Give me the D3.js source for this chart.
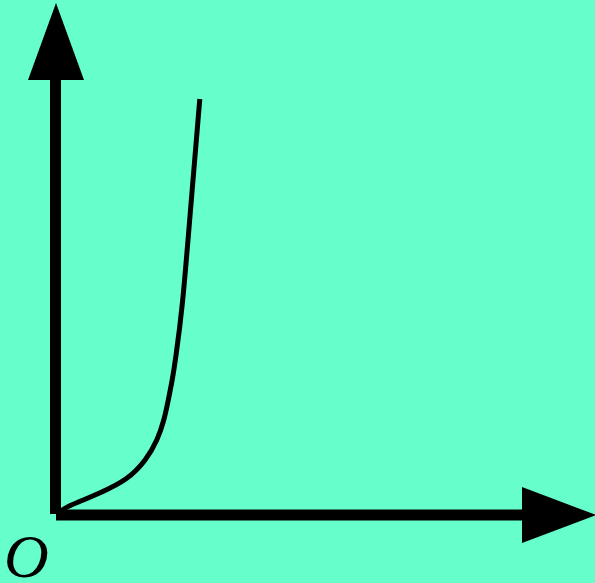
<!DOCTYPE html>
<html><head><meta charset="utf-8">
<script src="https://cdn.jsdelivr.net/npm/d3@7"></script>
<style>html,body{margin:0;padding:0;background:#66FFCC;}svg{display:block;}</style>
</head><body>
<script>
// Curve samples (x, y in chart units, origin at O)
const curveX = [2, 10.7, 27.3, 44, 71.5, 90.3, 101.5, 108.2, 112.3, 116.3, 119.5, 126.7, 132.8, 143.8];
const curveY = [2, 8.3, 15, 22, 35, 55, 75, 95, 115, 135, 155, 210, 285, 416];
const originLabel = "O";

const W = 595, H = 583;
const svg = d3.select("body").append("svg").attr("width", W).attr("height", H);
svg.append("rect").attr("width", W).attr("height", H).attr("fill", "#66FFCC");

const x = d3.scaleLinear().domain([0, 540]).range([56, 596]);
const y = d3.scaleLinear().domain([0, 515]).range([515, 0]);

// y axis shaft
svg.append("line").attr("x1", 55.5).attr("x2", 55.5).attr("y1", 514).attr("y2", 78)
  .attr("stroke", "#000").attr("stroke-width", 11);
// y arrowhead
svg.append("path").attr("d", `M56,3 L84,80 L28,80 Z`).attr("fill", "#000");
// x axis shaft
svg.append("line").attr("x1", 56).attr("x2", 524).attr("y1", 515).attr("y2", 515)
  .attr("stroke", "#000").attr("stroke-width", 11);
// x arrowhead
svg.append("path").attr("d", `M596,515 L522,487 L522,543 Z`).attr("fill", "#000");

// curve
const pts = curveX.map((v, i) => [v, curveY[i]]);
const line = d3.line().x(d => x(d[0])).y(d => y(d[1])).curve(d3.curveBasis);
svg.append("path").attr("d", line(pts)).attr("fill", "none")
  .attr("stroke", "#000").attr("stroke-width", 5);

svg.append("text").attr("x", 4).attr("y", 577)
  .attr("font-family", "'Liberation Serif', 'Times New Roman', serif")
  .attr("font-style", "italic").attr("font-size", 62).attr("fill", "#000")
  .text(originLabel);
</script>
</body></html>
